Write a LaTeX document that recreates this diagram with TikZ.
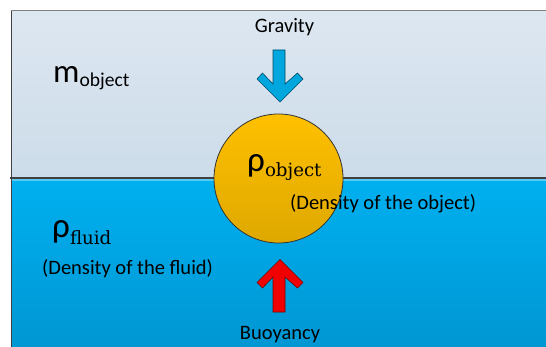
\documentclass[tikz,border=0pt]{standalone}
\usepackage{fontspec}
\setmainfont{Carlito}
\newfontfamily\serifsub{DejaVu Serif}
\definecolor{skytop}{RGB}{221,231,241}
\definecolor{skybot}{RGB}{204,220,233}
\definecolor{watertop}{RGB}{0,176,240}
\definecolor{waterbot}{RGB}{0,150,210}
\definecolor{goldtop}{RGB}{255,192,0}
\definecolor{goldbot}{RGB}{222,168,0}
\definecolor{gravblue}{RGB}{0,166,222}
\definecolor{buoyred}{RGB}{240,0,0}
\definecolor{surface}{RGB}{64,64,64}
\definecolor{bandblue}{RGB}{90,200,240}
\begin{document}
\begin{tikzpicture}[x=1pt,y=-1pt,
  lbl/.style={inner sep=0pt, anchor=base west, text=black},
  smalltxt/.style={font=\fontsize{20.5}{24}\selectfont},
  rhotxt/.style={font=\fontsize{35}{38}\selectfont},
  forcearrow/.style={line width=0.6pt, line join=miter}]
\useasboundingbox (0,0) rectangle (546,347);
\begin{scope}
\clip (0,0) rectangle (546,347);
% air and fluid
\shade[top color=skytop,bottom color=skybot] (11,11) rectangle (550,178);
\shade[top color=watertop,bottom color=waterbot] (11,178) rectangle (550,350);
\draw[color=bandblue, line width=2pt] (11,180.5) -- (550,180.5);
\draw[color=gray, line width=1pt] (11,11) -- (550,11);
\draw[color=darkgray, line width=1pt] (11,350) -- (11,11);
% surface
\coordinate (sL) at (10,178);
\coordinate (sR) at (550,178);
\draw[color=surface, line width=2.6pt] (sL) -- (sR);
% object
\node[circle, minimum size=129pt, inner sep=0pt, draw=black!80, line width=0.8pt,
  top color=goldtop, bottom color=goldbot] (ball) at (278.5,178.5) {};
% gravity arrow
\draw[forcearrow, fill=gravblue, draw=black!55!gravblue]
  (273,50) -- (285,50) -- (285,84) -- (297.5,73) -- (303,79) -- (280,102)
  -- (257,79) -- (262.5,73) -- (273,84) -- cycle;
% buoyancy arrow
\draw[forcearrow, fill=buoyred, draw=black!50!buoyred]
  (280,259.5) -- (303,282.5) -- (297.5,288) -- (285,277) -- (285,312)
  -- (273,312) -- (273,277) -- (262.5,288) -- (257,282.5) -- cycle;
\end{scope}
% labels
\node[lbl, smalltxt, anchor=base] (grav) at (284.5,33) {Gravity};
\node[lbl] (mobj) at (53,82.7) {\fontsize{33}{36}\selectfont m\raisebox{-4pt}{\fontsize{19.6}{22}\selectfont object}};
\node[lbl, rhotxt] (rhoobj) at (247,171.7) {ρ\raisebox{-5pt}{\serifsub\fontsize{18.2}{22}\selectfont object}};
\node[lbl, smalltxt] (dobj) at (290,210) {(Density of the object)};
\node[lbl, rhotxt] (rhofl) at (52,238) {ρ\raisebox{-7pt}{\serifsub\fontsize{18.2}{22}\selectfont fluid}};
\node[lbl, smalltxt] (dfl) at (42,275) {(Density of the fluid)};
\node[lbl, smalltxt, anchor=base] (buoy) at (280,339.5) {Buoyancy};
\end{tikzpicture}
\end{document}
